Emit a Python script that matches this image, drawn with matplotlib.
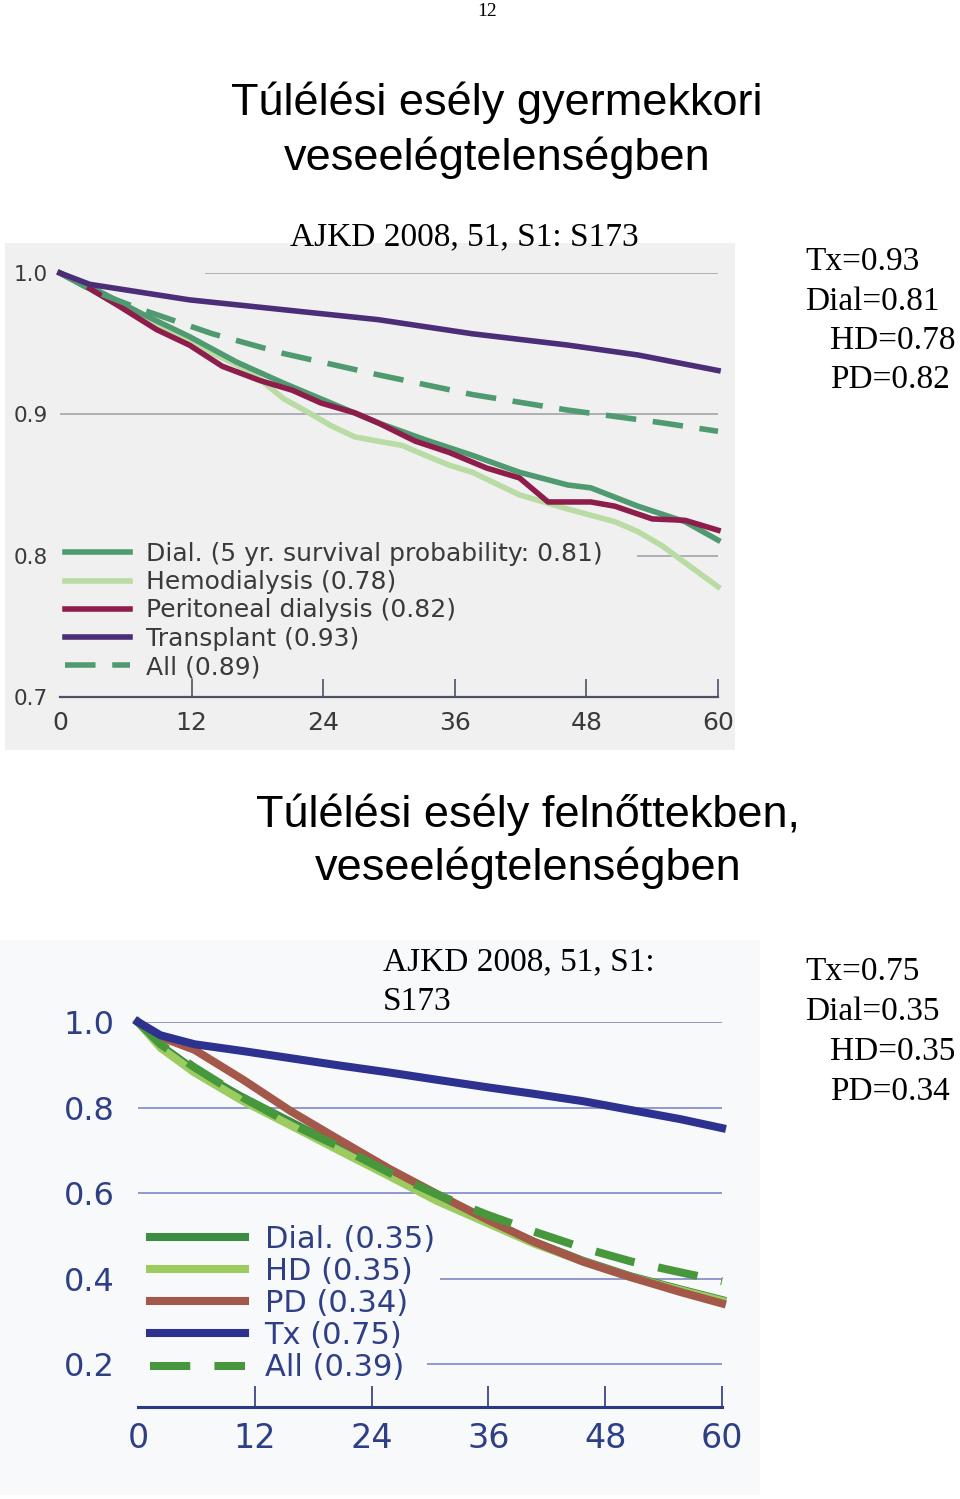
import matplotlib
matplotlib.use("Agg")
import matplotlib.pyplot as plt
from matplotlib.patches import Rectangle

W, H = 960, 1499

# ---- chart 1: children (months vs survival) ----
c1_tx_m = [0, 2.7, 11.8, 20.4, 29, 37.6, 46.3, 52.7, 60]
c1_tx = [1.0, 0.992, 0.981, 0.974, 0.967, 0.957, 0.949, 0.942, 0.931]
c1_all_m = [0, 3.1, 7.5, 13.9, 20.4, 29, 37.6, 46.3, 54.9, 60]
c1_all = [1.0, 0.987, 0.974, 0.957, 0.943, 0.928, 0.914, 0.903, 0.894, 0.888]
c1_dial_m = [0, 3.1, 7.5, 11.8, 16.1, 20.4, 24.7, 29, 33.3, 37.6, 41.9, 46.3, 48.4, 52.7, 57, 60]
c1_dial = [1.0, 0.989, 0.971, 0.955, 0.937, 0.922, 0.908, 0.894, 0.882, 0.871, 0.859, 0.850, 0.848, 0.835, 0.824, 0.811]
c1_hd_m = [0, 3.1, 7.5, 11.8, 16.1, 18.2, 20.4, 22.5, 24.7, 26.9, 29, 31.2, 33.3, 35.5, 37.6,
           41.9, 46.3, 50.6, 52.7, 54.9, 57, 60]
c1_hd = [1.0, 0.987, 0.968, 0.951, 0.935, 0.925, 0.911, 0.902, 0.892, 0.884, 0.881, 0.878, 0.871,
         0.864, 0.859, 0.843, 0.833, 0.824, 0.817, 0.807, 0.795, 0.778]
c1_pd_m = [0, 2.7, 5.3, 8.8, 11.8, 14.8, 18.2, 21.2, 23.8, 26.9, 29, 32.4, 35.5, 38.9, 41.9,
           44.5, 48.4, 50.6, 54, 57, 60]
c1_pd = [1.0, 0.989, 0.977, 0.960, 0.949, 0.934, 0.924, 0.917, 0.908, 0.901, 0.894, 0.881, 0.873,
         0.862, 0.855, 0.838, 0.838, 0.835, 0.826, 0.825, 0.818]
c1_labels = ["Dial. (5 yr. survival probability: 0.81)", "Hemodialysis (0.78)",
             "Peritoneal dialysis (0.82)", "Transplant (0.93)", "All (0.89)"]
c1_yticks = [0.7, 0.8, 0.9, 1.0]
c1_grid = [(1.0, 13.2, 60), (0.9, 0, 60), (0.8, 52.6, 60)]

# ---- chart 2: adults ----
c2_m = [0, 2.3, 5.8, 10.8, 15.8, 20.8, 25.8, 30.7, 35.7, 40.7, 45.7, 50.7, 55.7, 60]
c2_tx = [1.0, 0.969, 0.948, 0.932, 0.915, 0.898, 0.882, 0.865, 0.848, 0.832, 0.815, 0.794, 0.773, 0.752]
c2_hd = [1.0, 0.940, 0.882, 0.815, 0.757, 0.698, 0.640, 0.582, 0.532, 0.482, 0.440, 0.403, 0.373, 0.348]
c2_dial = [1.0, 0.945, 0.888, 0.823, 0.765, 0.707, 0.648, 0.590, 0.536, 0.486, 0.442, 0.405, 0.375, 0.350]
c2_pd = [1.0, 0.965, 0.935, 0.865, 0.790, 0.723, 0.657, 0.598, 0.540, 0.486, 0.440, 0.403, 0.369, 0.342]
c2_all = [1.0, 0.948, 0.894, 0.823, 0.761, 0.707, 0.648, 0.597, 0.551, 0.510, 0.472, 0.440, 0.415, 0.394]
c2_labels = ["Dial. (0.35)", "HD (0.35)", "PD (0.34)", "Tx (0.75)", "All (0.39)"]
c2_yticks = [0.2, 0.4, 0.6, 0.8, 1.0]
c2_grid = [(1.0, 0, 60), (0.8, 0, 60), (0.6, 0, 60), (0.4, 31, 60), (0.2, 29.7, 60)]

xticks = [0, 12, 24, 36, 48, 60]


def fx(x):
    return x / W


def fy(y):
    return 1 - y / H


fig = plt.figure(figsize=(W / 100, H / 100), dpi=100)
fig.patch.set_facecolor("white")

# scanned backgrounds (behind the axes)
fig.patches.append(Rectangle((fx(5), fy(750)), fx(730), 507 / H, transform=fig.transFigure,
                             facecolor="#f0f0f0", edgecolor="none", zorder=-10))
fig.patches.append(Rectangle((fx(0), fy(1495)), fx(760), 555 / H, transform=fig.transFigure,
                             facecolor="#f8f9fb", edgecolor="none", zorder=-10))

sans = "Liberation Sans"
serif = "Liberation Serif"

fig.text(fx(487), fy(12), "12", family=serif, fontsize=14, ha="center", va="center")
fig.text(fx(497), fy(103), "Túlélési esély gyermekkori", family=sans, fontsize=32.5, ha="center", va="center")
fig.text(fx(497), fy(158), "veseelégtelenségben", family=sans, fontsize=32.5, ha="center", va="center")
fig.text(fx(290), fy(237), "AJKD 2008, 51, S1: S173", family=serif, fontsize=24, ha="left", va="center")
for x, y, s in [(805, 262, "Tx=0.93"), (805, 302, "Dial=0.81"), (830, 341, "HD=0.78"), (830, 380, "PD=0.82")]:
    fig.text(fx(x), fy(y), s, family=serif, fontsize=24, ha="left", va="center")

fig.text(fx(528), fy(815), "Túlélési esély felnőttekben,", family=sans, fontsize=32.5, ha="center", va="center")
fig.text(fx(528), fy(868), "veseelégtelenségben", family=sans, fontsize=32.5, ha="center", va="center")
fig.text(fx(383), fy(962), "AJKD 2008, 51, S1:", family=serif, fontsize=24, ha="left", va="center")
fig.text(fx(383), fy(1002), "S173", family=serif, fontsize=24, ha="left", va="center")
for x, y, s in [(805, 972, "Tx=0.75"), (805, 1012, "Dial=0.35"), (830, 1052, "HD=0.35"), (830, 1092, "PD=0.34")]:
    fig.text(fx(x), fy(y), s, family=serif, fontsize=24, ha="left", va="center")

# ---------------- chart 1 ----------------
ax1 = fig.add_axes([fx(60), fy(697), 658 / W, 424 / H])
ax1.set_facecolor("none")
ax1.set_xlim(0, 60)
ax1.set_ylim(0.7, 1.0)
for yv, x0, x1 in c1_grid:
    ax1.hlines(yv, x0, x1, color="#a4a4ac", lw=1.2, zorder=1)
lw1 = 4.0
hd1, = ax1.plot(c1_hd_m, c1_hd, color="#b9dba4", lw=lw1, zorder=2, clip_on=False)
dial1, = ax1.plot(c1_dial_m, c1_dial, color="#4f9a70", lw=lw1, zorder=3, clip_on=False)
pd1, = ax1.plot(c1_pd_m, c1_pd, color="#8e1d4c", lw=lw1, zorder=4, clip_on=False)
all1, = ax1.plot(c1_all_m, c1_all, color="#4f9a70", lw=lw1, dashes=(5.5, 3), zorder=4, clip_on=False)
tx1, = ax1.plot(c1_tx_m, c1_tx, color="#4b2d78", lw=lw1, zorder=5, clip_on=False)

for s in ["top", "right", "left"]:
    ax1.spines[s].set_visible(False)
ax1.spines["bottom"].set_color("#4d5068")
ax1.spines["bottom"].set_linewidth(1.6)
ax1.set_xticks(xticks)
ax1.set_yticks(c1_yticks)
ax1.set_yticklabels([f"{v:.1f}" for v in c1_yticks])
ax1.tick_params(axis="x", direction="in", length=13, width=1.2, color="#4d5068",
                labelsize=18, labelcolor="#3a3a3a", pad=10)
ax1.tick_params(axis="y", length=0, labelsize=15.5, labelcolor="#3a3a3a", pad=9)
ax1.xaxis.get_major_ticks()[0].tick1line.set_visible(False)
for t in ax1.get_xticklabels() + ax1.get_yticklabels():
    t.set_family("DejaVu Sans")

fig.legend([dial1, hd1, pd1, tx1, all1], c1_labels, loc="upper left",
           bbox_to_anchor=(fx(65), fy(542)), bbox_transform=fig.transFigure,
           frameon=False, borderpad=0, borderaxespad=0, handlelength=2.6,
           handletextpad=0.65, labelspacing=0.17,
           prop={"family": "DejaVu Sans", "size": 18}, labelcolor="#3a3a3a")

# ---------------- chart 2 ----------------
ax2 = fig.add_axes([fx(138), fy(1407), 584 / W, 385 / H])
ax2.set_facecolor("none")
ax2.set_xlim(0, 60)
ax2.set_ylim(0.1, 1.0)
for yv, x0, x1 in c2_grid:
    ax2.hlines(yv, x0, x1, color="#8088c4", lw=1.2, zorder=1)
lw2 = 5.8
dial2, = ax2.plot(c2_m, c2_dial, color="#3c8c44", lw=lw2, zorder=2, clip_on=False)
hd2, = ax2.plot(c2_m, c2_hd, color="#9ccc60", lw=lw2, zorder=3, clip_on=False)
pd2, = ax2.plot(c2_m, c2_pd, color="#a4584a", lw=lw2, zorder=4, clip_on=False)
all2, = ax2.plot(c2_m, c2_all, color="#47983c", lw=lw2, dashes=(5, 3), zorder=5, clip_on=False)
tx2, = ax2.plot(c2_m, c2_tx, color="#2d3290", lw=lw2, zorder=6, clip_on=False)

for s in ["top", "right", "left"]:
    ax2.spines[s].set_visible(False)
ax2.spines["bottom"].set_color("#2b3a80")
ax2.spines["bottom"].set_linewidth(2.2)
ax2.set_xticks(xticks)
ax2.set_yticks(c2_yticks)
ax2.set_yticklabels([f"{v:.1f}" for v in c2_yticks])
ax2.tick_params(axis="x", direction="in", length=15, width=1.2, color="#2b3a80",
                labelsize=24, labelcolor="#2e3f86", pad=11)
ax2.tick_params(axis="y", length=0, labelsize=23, labelcolor="#2e3f86", pad=17)
ax2.xaxis.get_major_ticks()[0].tick1line.set_visible(False)
for t in ax2.get_xticklabels() + ax2.get_yticklabels():
    t.set_family("DejaVu Sans")

fig.legend([dial2, hd2, pd2, tx2, all2], c2_labels, loc="upper left",
           bbox_to_anchor=(fx(150), fy(1225)), bbox_transform=fig.transFigure,
           frameon=False, borderpad=0, borderaxespad=0, handlelength=3.1,
           handletextpad=0.65, labelspacing=0.1,
           prop={"family": "DejaVu Sans", "size": 22}, labelcolor="#2e3f86")

fig.savefig("out.png", dpi=100)
